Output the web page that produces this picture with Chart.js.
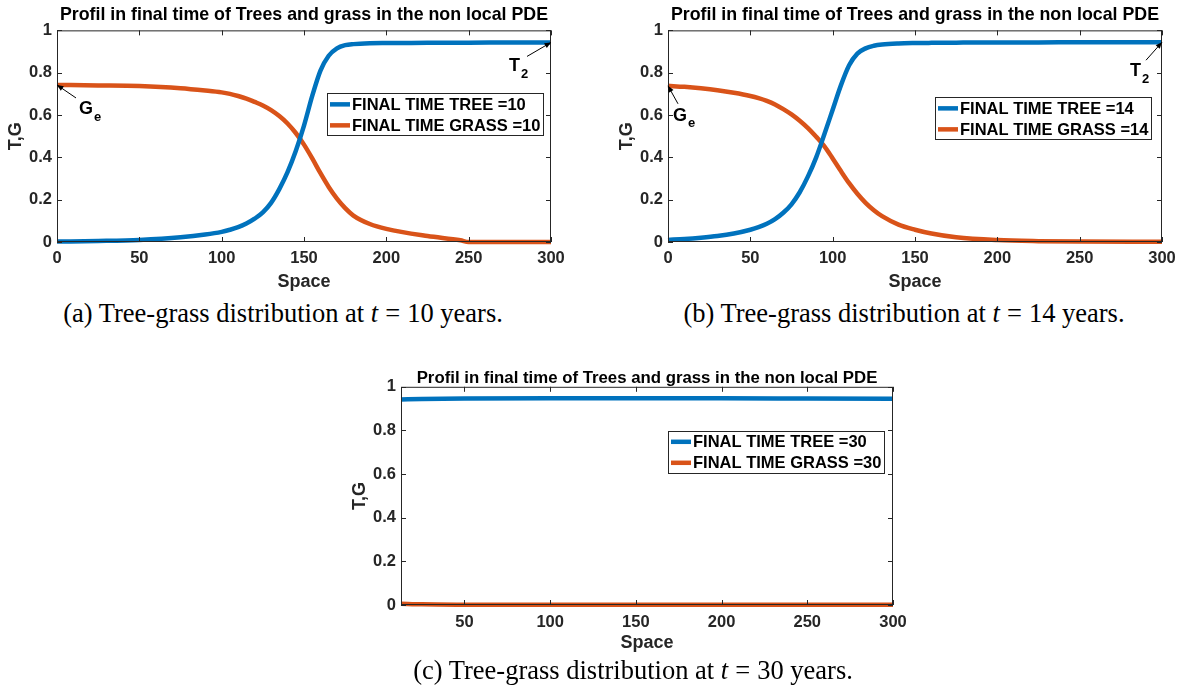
<!DOCTYPE html>
<html>
<head>
<meta charset="utf-8">
<title>Tree-grass profiles</title>
<script src="https://cdn.jsdelivr.net/npm/chart.js@4.4.1/dist/chart.umd.min.js"></script>
<style>
  html, body { margin: 0; padding: 0; background: #fff; overflow: hidden; }
  body { width: 1183px; height: 698px; position: relative; }
  .panel { position: absolute; }
  .caption {
    position: absolute;
    font-family: "Liberation Serif", "Times New Roman", serif;
    font-size: 26.5px;
    line-height: 1;
    color: #000;
    white-space: nowrap;
    transform: translate(-50%, -50%);
  }
  .caption .eq { margin: 0 7px; }
</style>
</head>
<body>

<div class="panel" style="left:0px;top:0px;width:580px;height:295px"><canvas id="chartA" width="580" height="295"></canvas></div>
<div class="panel" style="left:611px;top:0px;width:572px;height:295px"><canvas id="chartB" width="572" height="295"></canvas></div>
<div class="panel" style="left:344px;top:360px;width:580px;height:297px"><canvas id="chartC" width="580" height="297"></canvas></div>

<div class="caption" style="left:283px;top:313px">(a) Tree-grass distribution at <i>t</i><span class="eq">=</span>10 years.</div>
<div class="caption" style="left:904px;top:313px">(b) Tree-grass distribution at <i>t</i><span class="eq">=</span>14 years.</div>
<div class="caption" style="left:633px;top:670px">(c) Tree-grass distribution at <i>t</i><span class="eq">=</span>30 years.</div>

<script>
// profiles at t = 10
const spaceA = [0, 25, 50, 75, 90, 100, 105, 110, 115, 120, 125, 130, 135, 140, 145, 150, 155, 160, 165, 170, 175, 180, 190, 200, 225, 245, 250, 275, 300];
const treeA  = [0.002, 0.005, 0.01, 0.022, 0.035, 0.048, 0.058, 0.07, 0.087, 0.11, 0.14, 0.185, 0.25, 0.33, 0.43, 0.55, 0.69, 0.81, 0.88, 0.915, 0.93, 0.935, 0.939, 0.94, 0.941, 0.942, 0.942, 0.943, 0.943];
const grassA = [0.742, 0.74, 0.737, 0.727, 0.716, 0.707, 0.7, 0.69, 0.678, 0.662, 0.645, 0.623, 0.595, 0.56, 0.515, 0.46, 0.395, 0.325, 0.26, 0.205, 0.16, 0.125, 0.085, 0.062, 0.028, 0.008, 0, 0, 0];

// profiles at t = 14
const spaceB = [0, 10, 20, 30, 40, 50, 55, 60, 65, 70, 75, 80, 85, 90, 95, 100, 105, 110, 115, 120, 125, 130, 140, 150, 160, 175, 200, 225, 250, 300];
const treeB  = [0.01, 0.014, 0.02, 0.028, 0.04, 0.058, 0.07, 0.086, 0.108, 0.138, 0.178, 0.235, 0.31, 0.4, 0.51, 0.625, 0.74, 0.835, 0.89, 0.915, 0.927, 0.933, 0.938, 0.94, 0.941, 0.942, 0.943, 0.943, 0.944, 0.944];
const grassB = [0.738, 0.733, 0.726, 0.717, 0.705, 0.69, 0.68, 0.667, 0.65, 0.628, 0.603, 0.573, 0.538, 0.497, 0.452, 0.395, 0.335, 0.278, 0.228, 0.185, 0.15, 0.122, 0.082, 0.058, 0.04, 0.022, 0.009, 0.004, 0.002, 0.001];

// profiles at t = 30
const spaceC = [13, 25, 50, 100, 150, 200, 250, 300];
const treeC  = [0.942, 0.944, 0.946, 0.947, 0.947, 0.947, 0.946, 0.945];
const grassC = [0.006, 0.003, 0.0015, 0.001, 0.001, 0.001, 0.001, 0.001];

const spaceTicks = [0, 50, 100, 150, 200, 250, 300];
const tgTicks = [0, 0.2, 0.4, 0.6, 0.8, 1];

const TREE = '#0072BD';
const GRASS = '#D95319';
const AXIS = '#262626';
const FONT = '"Liberation Sans", Arial, Helvetica, sans-serif';
Chart.defaults.font.family = FONT;

function pairs(xs, ys) {
  return xs.map((x, i) => ({ x: x, y: ys[i] }));
}

function arrow(ctx, x0, y0, x1, y1) {
  const ang = Math.atan2(y1 - y0, x1 - x0), h = 7;
  ctx.beginPath();
  ctx.moveTo(x0, y0);
  ctx.lineTo(x1, y1);
  ctx.stroke();
  ctx.beginPath();
  ctx.moveTo(x1, y1);
  ctx.lineTo(x1 - h * Math.cos(ang - 0.4), y1 - h * Math.sin(ang - 0.4));
  ctx.lineTo(x1 - h * Math.cos(ang + 0.4), y1 - h * Math.sin(ang + 0.4));
  ctx.closePath();
  ctx.fill();
}

// box with inward ticks, boxed legend and arrow notes
const matlabAxes = {
  id: 'matlabAxes',
  afterDatasetsDraw(chart, args, opts) {
    const { ctx, chartArea: a, scales: { x, y } } = chart;
    ctx.save();
    ctx.strokeStyle = AXIS;
    ctx.lineWidth = 1;
    ctx.strokeRect(a.left + 0.5, a.top + 0.5, a.width - 1, a.height - 1);
    const tl = 5;
    ctx.beginPath();
    x.ticks.forEach(t => {
      const px = Math.round(x.getPixelForValue(t.value)) + 0.5;
      ctx.moveTo(px, a.bottom); ctx.lineTo(px, a.bottom - tl);
      ctx.moveTo(px, a.top); ctx.lineTo(px, a.top + tl);
    });
    y.ticks.forEach(t => {
      const py = Math.round(y.getPixelForValue(t.value)) + 0.5;
      ctx.moveTo(a.left, py); ctx.lineTo(a.left + tl, py);
      ctx.moveTo(a.right, py); ctx.lineTo(a.right - tl, py);
    });
    ctx.stroke();

    // legend
    const lg = opts.legend;
    ctx.font = 'bold 16.5px ' + FONT;
    const labels = chart.data.datasets.map(d => d.label);
    const tw = Math.max(...labels.map(l => ctx.measureText(l).width));
    const lx = a.left + lg.x, ly = a.top + lg.y, lw = 25 + tw + 3, lh = 42;
    ctx.fillStyle = '#fff';
    ctx.fillRect(lx, ly, lw, lh);
    ctx.strokeStyle = AXIS;
    ctx.lineWidth = 1;
    ctx.strokeRect(Math.round(lx) + 0.5, Math.round(ly) + 0.5, Math.round(lw), lh);
    chart.data.datasets.forEach((d, i) => {
      const ry = ly + lh / 4 + i * lh / 2 + 0.5;
      ctx.strokeStyle = d.borderColor;
      ctx.lineWidth = 4.5;
      ctx.beginPath();
      ctx.moveTo(lx + 3, ry); ctx.lineTo(lx + 23, ry);
      ctx.stroke();
      ctx.fillStyle = '#000';
      ctx.textBaseline = 'middle';
      ctx.textAlign = 'left';
      ctx.fillText(d.label, lx + 25, ry + 1);
    });

    // annotation arrows
    (opts.notes || []).forEach(n => {
      const px = x.getPixelForValue(n.at[0]), py = y.getPixelForValue(n.at[1]);
      ctx.strokeStyle = '#000';
      ctx.fillStyle = '#000';
      ctx.lineWidth = 1;
      arrow(ctx, px + n.tail[0], py + n.tail[1], px, py);
      ctx.textBaseline = 'middle';
      ctx.textAlign = 'left';
      ctx.font = 'bold 18px ' + FONT;
      const tx = px + n.text[0], ty = py + n.text[1];
      ctx.fillText(n.label, tx, ty);
      const w = ctx.measureText(n.label).width;
      ctx.font = 'bold 13px ' + FONT;
      ctx.fillText(n.sub, tx + w + 1, ty + 8);
    });
    ctx.restore();
  }
};

function makeChart(id, xs, tree, grass, t, xmin, lay) {
  return new Chart(document.getElementById(id), {
    type: 'line',
    data: {
      datasets: [
        { label: 'FINAL TIME TREE =' + t, data: pairs(xs, tree), borderColor: TREE },
        { label: 'FINAL TIME GRASS =' + t, data: pairs(xs, grass), borderColor: GRASS }
      ]
    },
    options: {
      responsive: false,
      animation: false,
      layout: { padding: { left: 0, top: 0, right: lay.right, bottom: 0 } },
      elements: {
        line: { borderWidth: 4.5, cubicInterpolationMode: 'monotone', borderCapStyle: 'butt' },
        point: { radius: 0, hoverRadius: 0 }
      },
      datasets: { line: { clip: 6 } },
      plugins: {
        legend: { display: false },
        tooltip: { enabled: false },
        title: {
          display: true,
          fullSize: false,
          text: 'Profil in final time of Trees and grass in the non local PDE',
          color: '#000',
          font: { size: lay.titleSize, weight: 'bold', lineHeight: lay.titleLH },
          padding: { top: lay.titlePad[0], bottom: lay.titlePad[1] }
        },
        matlabAxes: { legend: lay.legend, notes: lay.notes }
      },
      scales: {
        x: {
          type: 'linear',
          min: xmin,
          max: 300,
          grid: { display: false, drawTicks: false },
          border: { display: false },
          afterBuildTicks: s => { s.ticks = spaceTicks.filter(v => v >= s.min).map(v => ({ value: v })); },
          afterFit: s => { s.height = lay.xh; s.paddingLeft = 0; s.paddingRight = 0; },
          ticks: { color: AXIS, font: { size: 16.5, weight: 'bold' }, padding: lay.xpad, maxRotation: 0, callback: v => String(v) },
          title: {
            display: true, text: 'Space', color: AXIS,
            font: { size: 18, weight: 'bold' }, padding: { top: 0, bottom: lay.spacePad }
          }
        },
        y: {
          min: 0,
          max: 1,
          grid: { display: false, drawTicks: false },
          border: { display: false },
          afterBuildTicks: s => { s.ticks = tgTicks.map(v => ({ value: v })); },
          afterFit: s => { s.width = 57; s.paddingTop = 0; s.paddingBottom = 0; },
          ticks: { color: AXIS, font: { size: 16.5, weight: 'bold' }, padding: 5, callback: v => String(v) },
          title: {
            display: true, text: 'T,G', color: AXIS,
            font: { size: 18, weight: 'bold' }, padding: { top: 5, bottom: 0 }
          }
        }
      }
    },
    plugins: [matlabAxes]
  });
}

makeChart('chartA', spaceA, treeA, grassA, 10, 0, {
  right: 29, titleSize: 17.8, titleLH: 1.2, titlePad: [4.5, 4.5],
  xh: 53, xpad: 7, spacePad: 2.2,
  legend: { x: 270, y: 63 },
  notes: [
    { label: 'G', sub: 'e', at: [0, 0.742], tail: [19, 13], text: [22, 24] },
    { label: 'T', sub: '2', at: [300, 0.943], tail: [-24, 14], text: [-42, 24] }
  ]
});

makeChart('chartB', spaceB, treeB, grassB, 14, 0, {
  right: 21, titleSize: 17.8, titleLH: 1.2, titlePad: [4.5, 4.5],
  xh: 53, xpad: 7, spacePad: 2.2,
  legend: { x: 267, y: 67 },
  notes: [
    { label: 'G', sub: 'e', at: [0, 0.738], tail: [10, 18], text: [5, 30] },
    { label: 'T', sub: '2', at: [300, 0.944], tail: [-16, 18], text: [-32, 29] }
  ]
});

makeChart('chartC', spaceC, treeC, grassC, 30, 13, {
  right: 31, titleSize: 16.8, titleLH: 1.0, titlePad: [10, 0],
  xh: 52, xpad: 7.4, spacePad: 3.2,
  legend: { x: 267, y: 44 },
  notes: []
});
</script>
</body>
</html>
